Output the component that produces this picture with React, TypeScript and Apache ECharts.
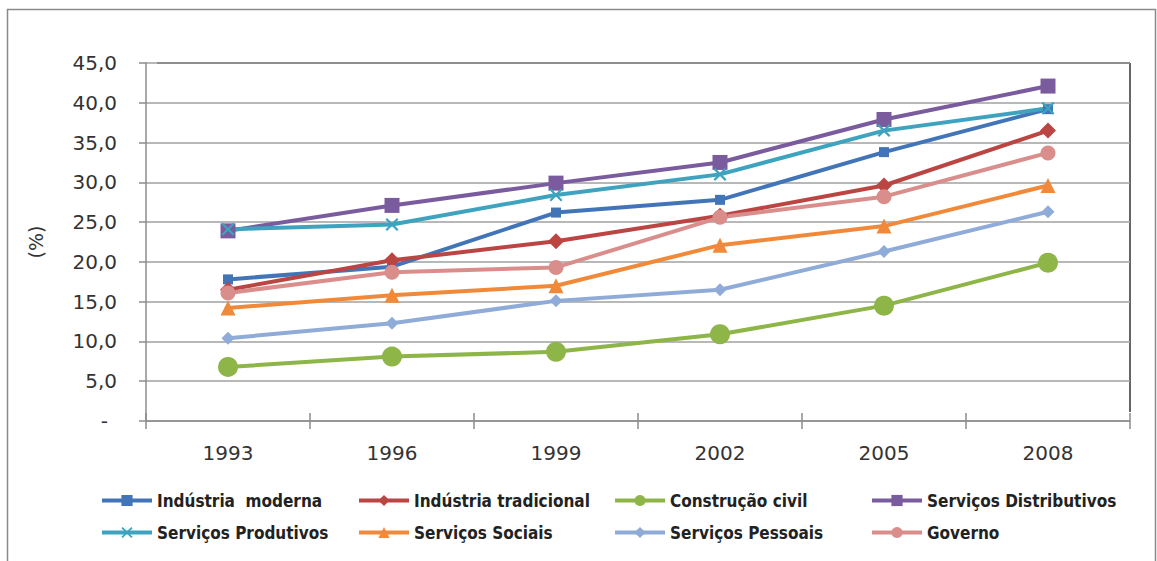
import React, { useEffect, useRef } from "react";
import * as echarts from "echarts";

const years = ["1993", "1996", "1999", "2002", "2005", "2008"];
const yTicks = [0, 5, 10, 15, 20, 25, 30, 35, 40, 45];

const industriaModerna = [17.8, 19.4, 26.2, 27.8, 33.8, 39.2];
const industriaTradicional = [16.5, 20.2, 22.6, 25.8, 29.6, 36.5];
const construcaoCivil = [6.8, 8.1, 8.7, 10.9, 14.5, 19.9];
const servicosDistributivos = [23.9, 27.1, 29.9, 32.5, 37.9, 42.1];
const servicosProdutivos = [24.1, 24.7, 28.4, 31.0, 36.5, 39.3];
const servicosSociais = [14.2, 15.8, 17.0, 22.1, 24.5, 29.6];
const servicosPessoais = [10.4, 12.3, 15.1, 16.5, 21.3, 26.3];
const governo = [16.1, 18.7, 19.3, 25.6, 28.2, 33.7];

const CROSS =
  "path://M0,1.2 L1.2,0 L5,3.8 L8.8,0 L10,1.2 L6.2,5 L10,8.8 L8.8,10 L5,6.2 L1.2,10 L0,8.8 L3.8,5 Z";

const seriesDefs = [
  { name: "Indústria  moderna", data: industriaModerna, color: "#4275B8", symbol: "rect", size: 10 },
  { name: "Indústria tradicional", data: industriaTradicional, color: "#BB4542", symbol: "diamond", size: 16 },
  { name: "Construção civil", data: construcaoCivil, color: "#8DB548", symbol: "circle", size: 20 },
  { name: "Serviços Distributivos", data: servicosDistributivos, color: "#7A5B9E", symbol: "rect", size: 15 },
  { name: "Serviços Produtivos", data: servicosProdutivos, color: "#3DA3BF", symbol: CROSS, size: 13 },
  { name: "Serviços Sociais", data: servicosSociais, color: "#F08A3A", symbol: "triangle", size: 15 },
  { name: "Serviços Pessoais", data: servicosPessoais, color: "#8FABD8", symbol: "diamond", size: 13 },
  { name: "Governo", data: governo, color: "#D98E8C", symbol: "circle", size: 15 },
];

const legendCols = [100, 357, 613, 870];
const legendRows = [492, 524];

export default function App() {
  const ref = useRef<HTMLDivElement>(null);
  useEffect(() => {
    if (!ref.current) return;
    const chart = echarts.init(ref.current, null, { renderer: "svg" });
    const font = "DejaVu Sans, Verdana, sans-serif";
    const legendFont = "'DejaVu Sans Condensed', 'Liberation Sans Narrow', sans-serif";
    chart.setOption({
      animation: false,
      backgroundColor: "#ffffff",
      grid: { left: 146, right: 27, top: 63, bottom: 140, containLabel: false },
      xAxis: [
        {
          type: "category",
          data: years,
          boundaryGap: true,
          axisLine: { show: true, lineStyle: { color: "#8c8c8c", width: 1.5 } },
          axisTick: { show: true, alignWithLabel: false, length: 8, lineStyle: { color: "#8c8c8c", width: 1.5 } },
          axisLabel: { margin: 22, fontSize: 20, color: "#333333", fontFamily: font },
          splitLine: { show: false },
        },
        {
          type: "category",
          data: years,
          position: "bottom",
          boundaryGap: true,
          axisLine: { show: false },
          axisTick: { show: true, inside: true, length: 8, lineStyle: { color: "#8c8c8c", width: 1.5 } },
          axisLabel: { show: false },
          splitLine: { show: false },
        },
      ],
      yAxis: {
        type: "value",
        min: yTicks[0],
        max: yTicks[yTicks.length - 1],
        interval: 5,
        name: "(%)",
        nameLocation: "middle",
        nameRotate: 90,
        nameGap: 101,
        nameTextStyle: { fontSize: 19, color: "#333333", fontFamily: font },
        axisLine: { show: true, lineStyle: { color: "#8c8c8c", width: 1.5 } },
        axisTick: { show: true, length: 7, lineStyle: { color: "#8c8c8c", width: 1.5 } },
        axisLabel: {
          margin: 29,
          fontSize: 20,
          color: "#333333",
          fontFamily: font,
          formatter: (v: number) => (v === 0 ? "{d|-}" : v.toFixed(1).replace(".", ",")),
          rich: { d: { fontSize: 20, color: "#333333", fontFamily: font, padding: [0, 9, 0, 0] } },
        },
        splitLine: { show: true, lineStyle: { color: "#a0a0a0", width: 1.5 } },
      },
      legend: seriesDefs.map((s, i) => ({
        data: [s.name],
        left: legendCols[i % 4],
        top: legendRows[Math.floor(i / 4)],
        itemWidth: 50,
        itemHeight: 14,
        itemGap: 0,
        padding: 0,
        selectedMode: false,
        lineStyle: { width: 4 },
        textStyle: { fontSize: 17, fontWeight: "bold", color: "#222222", fontFamily: legendFont },
      })),
      series: seriesDefs.map((s) => ({
        name: s.name,
        type: "line",
        data: s.data,
        symbol: s.symbol,
        symbolSize: s.size,
        showSymbol: true,
        lineStyle: { color: s.color, width: 4 },
        itemStyle: { color: s.color, borderColor: s.color, borderWidth: 0 },
        emphasis: { disabled: true },
      })),
      graphic: [
        {
          type: "rect",
          shape: { x: 7.5, y: 9.5, width: 1148, height: 560 },
          style: { fill: "none", stroke: "#8a8a8a", lineWidth: 1.5 },
          silent: true,
        },
        {
          type: "line",
          shape: { x1: 157, y1: 63, x2: 1130, y2: 63 },
          style: { stroke: "#222222", lineWidth: 1.5 },
          silent: true,
        },
        {
          type: "line",
          shape: { x1: 1130, y1: 63, x2: 1130, y2: 412 },
          style: { stroke: "#333333", lineWidth: 1.5 },
          silent: true,
        },
      ],
    });
    return () => chart.dispose();
  }, []);
  return (
    <div
      ref={ref}
      style={{ position: "absolute", left: 0, top: 0, width: 1157, height: 561 }}
    />
  );
}
